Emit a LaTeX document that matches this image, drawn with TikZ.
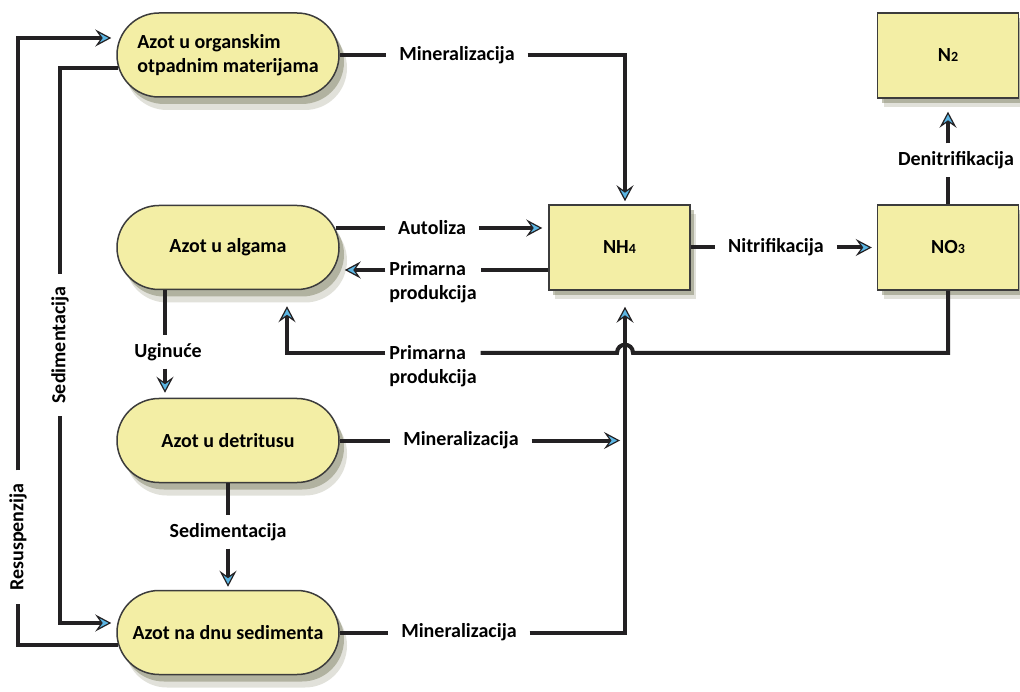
\documentclass[tikz,border=0pt]{standalone}
\usepackage{fontspec}
\setmainfont{Carlito}
\usetikzlibrary{arrows.meta,shadows}
\definecolor{boxfill}{RGB}{243,238,165}
\definecolor{boxline}{RGB}{60,60,60}
\definecolor{flowc}{RGB}{35,33,35}
\definecolor{tipc}{RGB}{92,182,228}
\definecolor{shadowc}{RGB}{120,122,90}
\newcommand{\lblfont}{\fontsize{20}{24}\selectfont\bfseries}
\newcommand{\subfig}[1]{{\fontsize{14}{14}\selectfont #1}}
\begin{document}
\begin{tikzpicture}[x=1pt,y=-1pt,
  box/.style={draw=boxline, line width=1.5pt, fill=boxfill, font=\lblfont, text=black,
    align=left, inner sep=0pt},
  pill/.style={box, rounded corners=42pt, minimum width=222pt, minimum height=84pt,
    drop shadow={shadow xshift=8pt, shadow yshift=-13pt, fill=shadowc, opacity=.22},
    drop shadow={shadow xshift=5pt, shadow yshift=-7pt, fill=shadowc, opacity=.45}},
  sq/.style={box, minimum width=141pt, minimum height=85pt,
    drop shadow={shadow xshift=6pt, shadow yshift=-9pt, fill=shadowc, opacity=.22},
    drop shadow={shadow xshift=4pt, shadow yshift=-5pt, fill=shadowc, opacity=.45}},
  lab/.style={font=\lblfont, text=black, align=left, inner sep=0pt,
    outer xsep=13pt, outer ysep=8pt},
  twolab/.style={lab, outer xsep=4pt},
  flow/.style={line width=4pt, draw=flowc},
  tip/.style={-{Stealth[length=16pt,width=17pt,inset=6pt,line width=1.2pt,fill=tipc]}}
]
\fill[white] (0,0) rectangle (1020,692);
\useasboundingbox (0,0) rectangle (1020,692);

% nitrogen pools
\node[pill] (p1) at (228,55) {\fontsize{20}{25}\selectfont Azot u organskim\\otpadnim materijama};
\node[pill] (p2) at (228,247.5) {Azot u algama};
\node[pill] (p3) at (228,440.5) {Azot u detritusu};
\node[pill] (p4) at (228,632.5) {Azot na dnu sedimenta};
\node[sq] (nh4) at (619.5,247.5) {NH\subfig{4}};
\node[sq] (no3) at (948,247.5) {NO\subfig{3}};
\node[sq] (n2) at (948,55.5) {N\subfig{2}};

% process labels
\node[lab] (lMin1) at (457,55) {Mineralizacija};
\node[lab] (lAuto) at (432,228) {Autoliza};
\node[twolab] (lPrimA) at (433,282) {Primarna\\produkcija};
\node[lab] (lNitr) at (776,247.5) {Nitrifikacija};
\node[lab] (lDen) at (956,160) {Denitrifikacija};
\node[twolab] (lPrimB) at (433,366) {Primarna\\produkcija};
\node[lab] (lUgin) at (168,352) {Uginuće};
\node[lab] (lMin2) at (461,440.5) {Mineralizacija};
\node[lab] (lSedB) at (228,532) {Sedimentacija};
\node[lab] (lMin3) at (459,632.5) {Mineralizacija};
\node[lab, rotate=90] (lSedA) at (60,345) {Sedimentacija};
\node[lab, rotate=90] (lRes) at (18,537) {Resuspenzija};

% helper points
\coordinate (riser) at (625,632.5);
\coordinate (cross) at (625,353);
\coordinate (r1) at ([shift={(0,22.5)}]nh4.west);
\coordinate (uA) at ([xshift=-63pt]p2.south);
\coordinate (uB) at ([shift={(-63,-5)}]p3.north);

% resuspension
\draw[flow] ([shift={(2,12.5)}]p4.west) -| (lRes.west);
\draw[flow,tip] (lRes.east) |- ([shift={(-5,-17)}]p1.west);

% sedimentation of organic waste
\draw[flow] ([shift={(2,13)}]p1.west) -| (lSedA.east);
\draw[flow,tip] (lSedA.west) |- ([shift={(-5,-9.5)}]p4.west);

% mineralization of organic waste
\draw[flow] (p1.east) -- (lMin1.west);
\draw[flow,tip] (lMin1.east) -| ([shift={(5.5,-3)}]nh4.north);

% autolysis
\draw[flow] ([shift={(-4,-19.5)}]p2.east) -- (lAuto.west);
\draw[flow,tip,shorten >=6pt] (lAuto.east) -- (nh4.west |- lAuto.east);

% primary production from ammonium
\draw[flow] (r1) -- (lPrimA.east |- r1);
\draw[flow,tip,shorten >=5pt] (lPrimA.west |- r1) -- (p2.east |- r1);

% nitrification
\draw[flow] (nh4.east) -- (lNitr.west);
\draw[flow,tip,shorten >=5pt] (lNitr.east) -- (no3.west |- lNitr.east);

% denitrification
\draw[flow] (no3.north) -- (no3.north |- lDen.south);
\draw[flow,tip,shorten >=13pt] (no3.north |- lDen.north) -- (n2.south);

% primary production from nitrate, hopping over the riser
\draw[flow] (no3.south) |- ([xshift=8pt]cross)
  .. controls ([shift={(8,-11)}]cross) and ([shift={(-8,-11)}]cross) .. ([xshift=-8pt]cross)
  -- (lPrimB.east |- cross);
\draw[flow,tip] (lPrimB.west |- cross) -| ([shift={(59,16)}]p2.south);

% dying algae
\draw[flow] (uA) -- (uA |- lUgin.north);
\draw[flow,tip] (uA |- lUgin.south) -- (uB);

% sedimentation of detritus
\draw[flow] (p3.south) -- (lSedB.north);
\draw[flow,tip] (lSedB.south) -- ([yshift=3pt]p4.north);

% mineralization of detritus
\draw[flow] (p3.east) -- (lMin2.west);
\draw[flow,tip,shorten >=5pt] (lMin2.east) -- (riser |- lMin2.east);

% mineralization in the sediment
\draw[flow] (p4.east) -- (lMin3.west);
\draw[flow,tip] (lMin3.east) -| ([shift={(5.5,16)}]nh4.south);
\end{tikzpicture}
\end{document}
